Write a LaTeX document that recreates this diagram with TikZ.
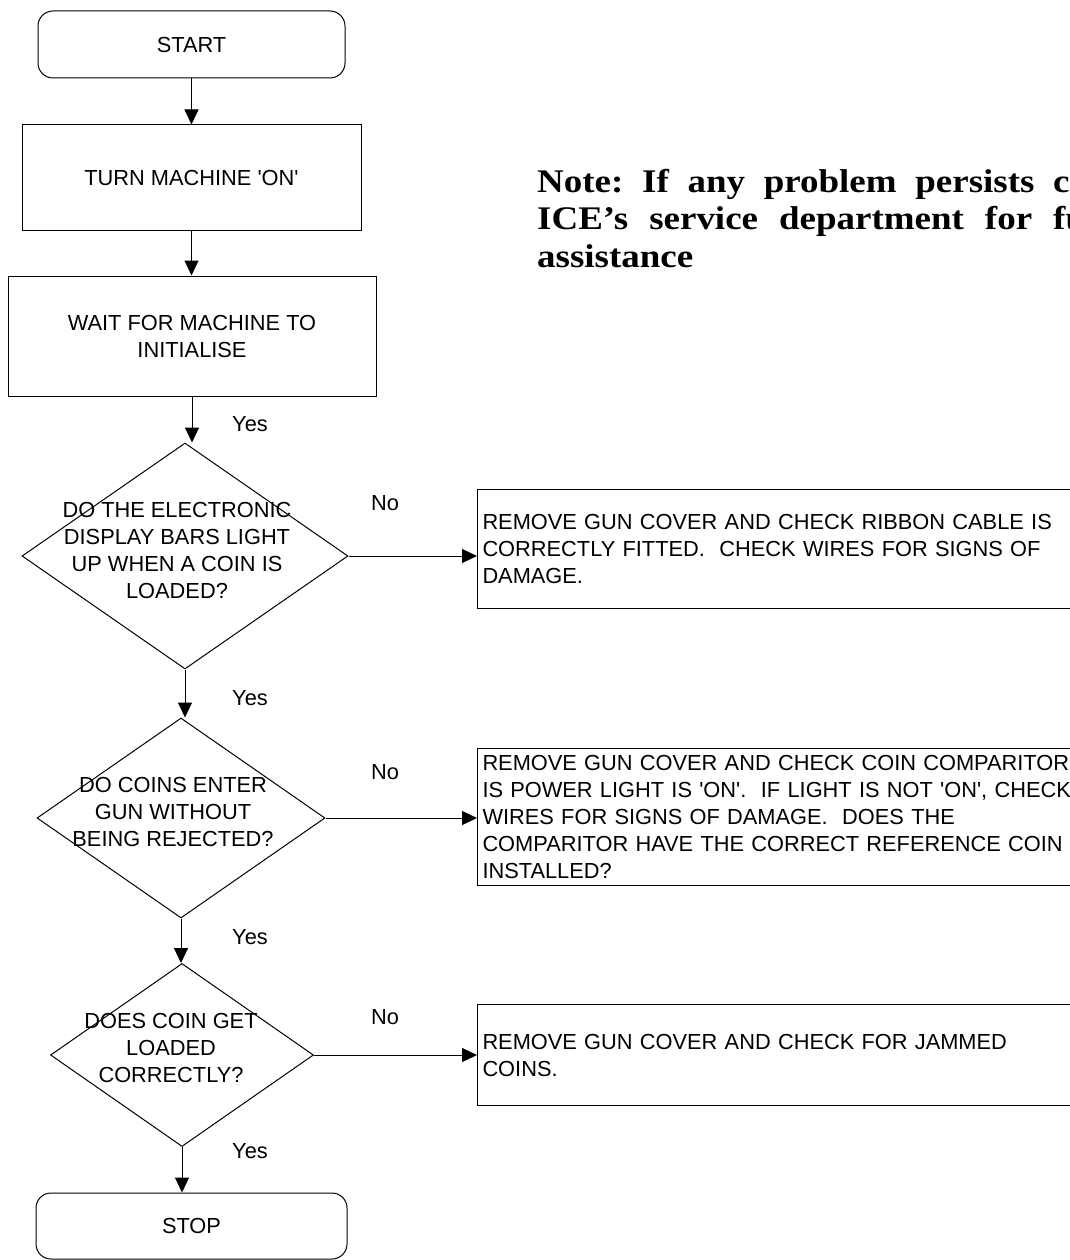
\documentclass[tikz,border=0pt]{standalone}
\usepackage{fontspec}
\usetikzlibrary{shapes.geometric,arrows.meta}
\newfontfamily\notefam{Liberation Serif}[FakeStretch=1.12]
\font\arialf="Liberation Sans" at 21.8pt
\tikzset{
  basetxt/.style={font=\fontsize{21.8}{27}\selectfont\arialf, inner sep=0pt},
  term/.style={draw, rounded corners=15pt, line width=1pt, basetxt},
  proc/.style={draw, line width=1pt, basetxt, align=center},
  dia/.style={draw, diamond, line width=1pt, inner sep=0pt},
  dtext/.style={basetxt, align=center},
  rbox/.style={draw, line width=1pt, basetxt, align=left, anchor=north west,
    inner xsep=5pt, inner ysep=0pt, text width=623pt, minimum width=633pt},
  lab/.style={basetxt},
  arr/.style={-{Triangle[length=15pt,width=14pt]}, line width=1pt},
}
\begin{document}
\begin{tikzpicture}[x=1pt,y=-1pt]
\useasboundingbox (0,0) rectangle (1070,1260);
\fill[white] (0,0) rectangle (1070,1260);
\clip (0,0) rectangle (1070,1260);

% left column
\node[term, minimum width=307pt, minimum height=67pt] (start) at (191.5,44.5) {START};
\node[proc, minimum width=339pt, minimum height=105pt] (turn) at (191.5,177.5) {TURN MACHINE 'ON'};
\node[proc, minimum width=368pt, minimum height=120pt] (wait) at (192,336) {WAIT FOR MACHINE TO\\INITIALISE};

\node[dia, minimum width=326pt, minimum height=226pt] (d1) at (185,556) {};
\node[dtext] (d1t) at (177,550.5) {DO THE ELECTRONIC\\DISPLAY BARS LIGHT\\UP WHEN A COIN IS\\LOADED?};

\node[dia, minimum width=288pt, minimum height=200pt] (d2) at (181,818) {};
\node[dtext] (d2t) at (173,812) {DO COINS ENTER\\GUN WITHOUT\\BEING REJECTED?};

\node[dia, minimum width=263pt, minimum height=183pt] (d3) at (182,1055) {};
\node[dtext] (d3t) at (171,1048) {DOES COIN GET\\LOADED\\CORRECTLY?};

\node[term, minimum width=311pt, minimum height=66pt] (stop) at (191.5,1226) {STOP};

% right boxes
\node[rbox, minimum height=119pt] (b1) at (477,489) {REMOVE GUN COVER AND CHECK RIBBON CABLE IS\\CORRECTLY FITTED.\ \ CHECK WIRES FOR SIGNS OF\\DAMAGE.};
\node[rbox, minimum height=137pt] (b2) at (477,748) {REMOVE GUN COVER AND CHECK COIN COMPARITOR\\IS POWER LIGHT IS 'ON'.\ \ IF LIGHT IS NOT 'ON', CHECK\\WIRES FOR SIGNS OF DAMAGE.\ \ DOES THE\\COMPARITOR HAVE THE CORRECT REFERENCE COIN\\INSTALLED?};
\node[rbox, minimum height=101pt] (b3) at (477,1004) {REMOVE GUN COVER AND CHECK FOR JAMMED\\COINS.};

% connectors
\draw[arr] (start.south) -- (turn.north);
\draw[arr] (turn.south) -- (turn.south |- wait.north);
\draw[arr] (wait.south) -- (wait.south |- d1.north);
\draw[arr] (d1.south) -- (d1.south |- d2.north);
\draw[arr] (d2.south) -- (d2.south |- d3.north);
\draw[arr] (d3.south) -- (d3.south |- stop.north);
\draw[arr] (d1.east) -- (d1.east -| b1.west);
\draw[arr] (d2.east) -- (d2.east -| b2.west);
\draw[arr] (d3.east) -- (d3.east -| b3.west);

% labels
\node[lab] (y1) at (250,424) {Yes};
\node[lab] (y2) at (250,698) {Yes};
\node[lab] (y3) at (250,937) {Yes};
\node[lab] (y4) at (250,1151) {Yes};
\node[lab] (n1) at (385,503) {No};
\node[lab] (n2) at (385,772) {No};
\node[lab] (n3) at (385,1017) {No};

% note
\node[anchor=base west, inner sep=0pt, text width=631pt, align=justify,
  font=\notefam\bfseries\fontsize{33}{37}\selectfont\frenchspacing] (note) at (537,193)
  {\hyphenpenalty=10000 \tolerance=10000 Note: If any problem persists \mbox{contact} \mbox{ICE’s} \mbox{service} \mbox{department} for \mbox{further} \mbox{assistance}};
\end{tikzpicture}
\end{document}
